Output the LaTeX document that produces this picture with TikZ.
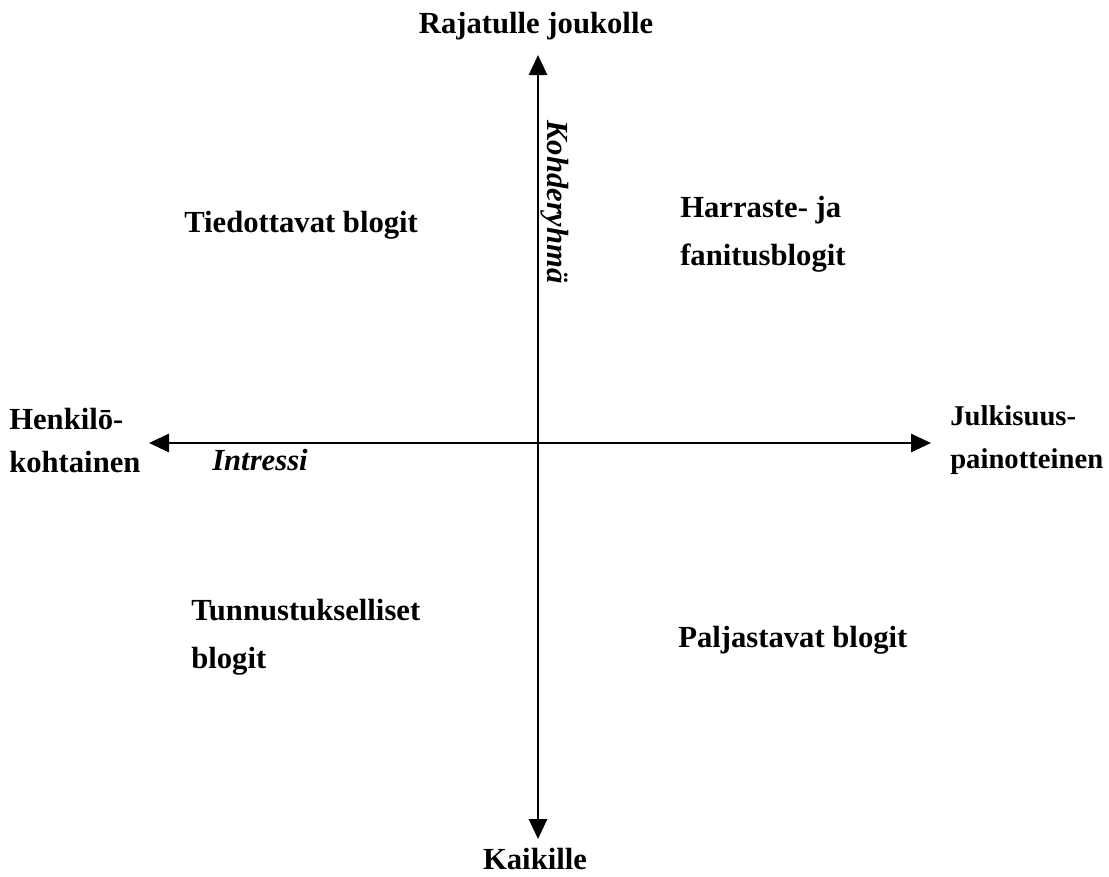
\documentclass[tikz,border=0pt]{standalone}
\usepackage{fontspec}
\setmainfont{Liberation Serif}
\usetikzlibrary{arrows.meta}
\begin{document}
\begin{tikzpicture}[x=0.75pt,y=-0.75pt,
  lbl/.style={font=\fontsize{23}{36}\selectfont\bfseries, inner sep=0pt, align=left},
  tight/.style={font=\fontsize{23}{32}\selectfont\bfseries},
  axislbl/.style={font=\fontsize{23}{30}\selectfont\bfseries\itshape, inner sep=0pt},
  axis/.style={line width=2.2pt, {Triangle[length=15pt,width=13.5pt]}-{Triangle[length=15pt,width=13.5pt]}}]
\useasboundingbox (0,0) rectangle (1109,876);
\coordinate (top) at (538,55);
\coordinate (bottom) at (538,839);
\coordinate (left) at (149,443);
\coordinate (right) at (931,443);
\draw[axis] (bottom) -- (top);
\draw[axis] (left) -- (right);
\node[lbl, anchor=base] (rj) at (536,33) {Rajatulle joukolle};
\node[lbl, anchor=base] (ka) at (535,869) {Kaikille};
\node[axislbl, rotate=-90, anchor=base] (ko) at (547,202) {Kohderyhmä};
\node[axislbl, anchor=base west] (in) at (212,470) {Intressi};
\node[lbl, anchor=base west] (ti) at (184,232) {Tiedottavat blogit};
\node[lbl, anchor=base west] (ha) at (680,265) {Harraste- ja\\fanitusblogit};
\node[lbl, tight, anchor=base west] (he) at (9,472) {Henkilō-\\kohtainen};
\node[lbl, tight, font=\fontsize{21.5}{32}\selectfont\bfseries, anchor=base west] (ju) at (950,468) {Julkisuus-\\painotteinen};
\node[lbl, anchor=base west] (tu) at (191,668) {Tunnustukselliset\\blogit};
\node[lbl, anchor=base west] (pa) at (678,647) {Paljastavat blogit};
\end{tikzpicture}
\end{document}
